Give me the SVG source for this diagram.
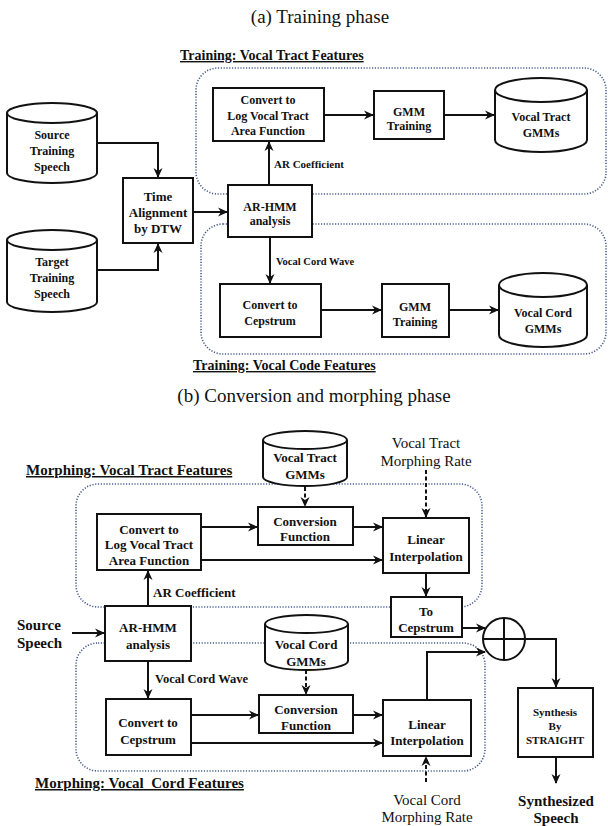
<svg xmlns="http://www.w3.org/2000/svg" width="608" height="826" viewBox="0 0 608 826">
<defs>
<marker id="ah" viewBox="0 0 10 10" refX="9" refY="5" markerWidth="10" markerHeight="10" markerUnits="userSpaceOnUse" orient="auto">
<path d="M0,0.5 L10,5 L0,9.5 L3,5 Z" fill="#111"/>
</marker>
<style>
.box{fill:#fff;stroke:#111;stroke-width:2}
.grp{fill:none;stroke:#4b5f8f;stroke-width:1.6;stroke-dasharray:1.2 1.6}
.ln{fill:none;stroke:#111;stroke-width:2}
.dash{stroke-dasharray:4 2.5}
.t{font-family:"Liberation Serif","Times New Roman",serif;font-weight:bold;text-anchor:middle;fill:#111}
.s12{font-size:12px}
.s13{font-size:13px}
.r{font-family:"Liberation Serif","Times New Roman",serif;font-weight:normal;text-anchor:middle;fill:#111}
.ul{text-decoration:underline;text-anchor:start}
</style>
</defs>
<rect width="608" height="826" fill="#fff"/>

<!-- titles -->
<text class="r" x="320" y="23" font-size="19">(a) Training phase</text>
<text class="r" x="314" y="402" font-size="19">(b) Conversion and morphing phase</text>

<!-- group frames -->
<g id="groups">
<rect class="grp" x="196" y="68" width="410" height="126" rx="22"/>
<rect class="grp" x="201" y="224" width="405" height="130" rx="22"/>
<rect class="grp" x="76" y="484" width="406" height="123" rx="22"/>
<rect class="grp" x="76" y="643" width="409" height="128" rx="22"/>
<text class="t ul" x="180" y="60" font-size="14">Training: Vocal Tract Features</text>
<text class="t ul" x="193" y="370" font-size="14">Training: Vocal Code Features</text>
<text class="t ul" x="26" y="475" font-size="15">Morphing: Vocal Tract Features</text>
<text class="t ul" x="35" y="788" font-size="15" xml:space="preserve">Morphing: Vocal  Cord Features</text>
</g>

<!-- connectors -->
<g id="connectors">
<path class="ln" d="M97,143 H158 V177" marker-end="url(#ah)"/>
<path class="ln" d="M97,270 H158 V244" marker-end="url(#ah)"/>
<path class="ln" d="M193,212 H227" marker-end="url(#ah)"/>
<path class="ln" d="M269,185 V142" marker-end="url(#ah)"/>
<path class="ln" d="M324,115 H373" marker-end="url(#ah)"/>
<path class="ln" d="M444,115 H494" marker-end="url(#ah)"/>
<path class="ln" d="M270,237 V283" marker-end="url(#ah)"/>
<path class="ln" d="M321,310 H381" marker-end="url(#ah)"/>
<path class="ln" d="M449,310 H498" marker-end="url(#ah)"/>
<text class="t" x="274" y="168" font-size="11" text-anchor="start" style="text-anchor:start">AR Coefficient</text>
<text class="t" x="276" y="265" font-size="10.5" style="text-anchor:start">Vocal Cord Wave</text>

<path class="ln dash" d="M305,487 V506" marker-end="url(#ah)"/>
<path class="ln" d="M201,527 H257" marker-end="url(#ah)"/>
<path class="ln" d="M201,560 H382" marker-end="url(#ah)"/>
<path class="ln" d="M353,527 H382" marker-end="url(#ah)"/>
<path class="ln dash" d="M426,470 V517" marker-end="url(#ah)"/>
<path class="ln" d="M426,573 V596" marker-end="url(#ah)"/>
<path class="ln" d="M148,606 V571" marker-end="url(#ah)"/>
<path class="ln" d="M72,633 H104" marker-end="url(#ah)"/>
<path class="ln" d="M148,661 V698" marker-end="url(#ah)"/>
<path class="ln dash" d="M306,670 V694" marker-end="url(#ah)"/>
<path class="ln" d="M191,715 H258" marker-end="url(#ah)"/>
<path class="ln" d="M191,743 H382" marker-end="url(#ah)"/>
<path class="ln" d="M353,715 H382" marker-end="url(#ah)"/>
<path class="ln" d="M427,700 V652 H485" marker-end="url(#ah)"/>
<path class="ln dash" d="M426,782 V757" marker-end="url(#ah)"/>
<path class="ln" d="M462,628 H485" marker-end="url(#ah)"/>
<path class="ln" d="M525,639 H556 V687" marker-end="url(#ah)"/>
<path class="ln" d="M556,757 V783" marker-end="url(#ah)"/>
<text class="t" x="153" y="597" font-size="13" style="text-anchor:start">AR Coefficient</text>
<text class="t" x="155" y="683" font-size="12.5" style="text-anchor:start">Vocal Cord Wave</text>
</g>

<!-- training nodes -->
<g id="src-train">
<path class="box" d="M7,113 A45,10 0 0 1 97,113 V173 A45,10 0 0 1 7,173 Z"/>
<path class="ln" d="M7,113 A45,10 0 0 0 97,113"/>
<text class="t s12" x="52" y="139">Source</text>
<text class="t s12" x="52" y="155">Training</text>
<text class="t s12" x="52" y="171">Speech</text>
</g>
<g id="tgt-train">
<path class="box" d="M7,240 A45,10 0 0 1 97,240 V302 A45,10 0 0 1 7,302 Z"/>
<path class="ln" d="M7,240 A45,10 0 0 0 97,240"/>
<text class="t s12" x="52" y="266">Target</text>
<text class="t s12" x="52" y="282">Training</text>
<text class="t s12" x="52" y="298">Speech</text>
</g>
<g id="dtw">
<rect class="box" x="123" y="178" width="70" height="65"/>
<text class="t s13" x="158" y="201">Time</text>
<text class="t s13" x="158" y="217">Alignment</text>
<text class="t s13" x="158" y="233">by DTW</text>
</g>
<g id="arhmm-train">
<rect class="box" x="228" y="185" width="84" height="52"/>
<text class="t s12" x="270" y="211">AR-HMM</text>
<text class="t s12" x="270" y="225">analysis</text>
</g>
<g id="logvt-train">
<rect class="box" x="213" y="88" width="111" height="53"/>
<text class="t s12" x="268" y="104">Convert to</text>
<text class="t s12" x="268" y="120">Log Vocal Tract</text>
<text class="t s12" x="268" y="135">Area Function</text>
</g>
<g id="gmm-vt-train">
<rect class="box" x="374" y="91" width="70" height="48"/>
<text class="t s12" x="409" y="116">GMM</text>
<text class="t s12" x="409" y="130">Training</text>
</g>
<g id="vt-gmms-train">
<path class="box" d="M495,90 A46,12 0 0 1 587,90 V140 A46,12 0 0 1 495,140 Z"/>
<path class="ln" d="M495,90 A46,12 0 0 0 587,90"/>
<text class="t s12" x="541" y="121">Vocal Tract</text>
<text class="t s12" x="541" y="137">GMMs</text>
</g>
<g id="cep-train">
<rect class="box" x="220" y="284" width="101" height="53"/>
<text class="t s12" x="270" y="309">Convert to</text>
<text class="t s12" x="270" y="325">Cepstrum</text>
</g>
<g id="gmm-vc-train">
<rect class="box" x="382" y="284" width="67" height="53"/>
<text class="t s12" x="415" y="311">GMM</text>
<text class="t s12" x="415" y="326">Training</text>
</g>
<g id="vc-gmms-train">
<path class="box" d="M499,285 A44,12 0 0 1 587,285 V335 A44,12 0 0 1 499,335 Z"/>
<path class="ln" d="M499,285 A44,12 0 0 0 587,285"/>
<text class="t s12" x="543" y="317">Vocal Cord</text>
<text class="t s12" x="543" y="333">GMMs</text>
</g>

<!-- morphing nodes -->
<g id="vt-rate">
<text class="r" x="426" y="448" font-size="15">Vocal Tract</text>
<text class="r" x="426" y="466" font-size="15">Morphing  Rate</text>
</g>
<g id="vt-gmms">
<path class="box" d="M263,440 A42,9 0 0 1 347,440 V477 A42,9 0 0 1 263,477 Z"/>
<path class="ln" d="M263,440 A42,9 0 0 0 347,440"/>
<text class="t s13" x="305" y="462">Vocal Tract</text>
<text class="t s13" x="305" y="479">GMMs</text>
</g>
<g id="conv-vt">
<rect class="box" x="258" y="507" width="95" height="38"/>
<text class="t s13" x="305" y="526">Conversion</text>
<text class="t s13" x="305" y="541">Function</text>
</g>
<g id="logvt">
<rect class="box" x="97" y="514" width="104" height="56"/>
<text class="t s13" x="149" y="534">Convert to</text>
<text class="t s13" x="149" y="549">Log Vocal Tract</text>
<text class="t s13" x="149" y="565">Area Function</text>
</g>
<g id="lin-vt">
<rect class="box" x="383" y="518" width="86" height="55"/>
<text class="t s13" x="426" y="544">Linear</text>
<text class="t s13" x="426" y="561">Interpolation</text>
</g>
<g id="to-cep">
<rect class="box" x="391" y="597" width="71" height="40"/>
<text class="t s13" x="426" y="616">To</text>
<text class="t s13" x="426" y="632">Cepstrum</text>
</g>
<g id="src-speech">
<text class="t" x="17" y="630" font-size="15" style="text-anchor:start">Source</text>
<text class="t" x="17" y="648" font-size="15" style="text-anchor:start">Speech</text>
</g>
<g id="arhmm">
<rect class="box" x="105" y="606" width="86" height="55"/>
<text class="t s13" x="148" y="632">AR-HMM</text>
<text class="t s13" x="148" y="649">analysis</text>
</g>
<g id="vc-gmms">
<path class="box" d="M265,624 A41.5,9 0 0 1 348,624 V661 A41.5,9 0 0 1 265,661 Z"/>
<path class="ln" d="M265,624 A41.5,9 0 0 0 348,624"/>
<text class="t s13" x="306" y="649">Vocal Cord</text>
<text class="t s13" x="306" y="666">GMMs</text>
</g>
<g id="conv-vc">
<rect class="box" x="259" y="695" width="94" height="38"/>
<text class="t s13" x="306" y="714">Conversion</text>
<text class="t s13" x="306" y="730">Function</text>
</g>
<g id="cep">
<rect class="box" x="106" y="699" width="85" height="56"/>
<text class="t s13" x="148" y="727">Convert to</text>
<text class="t s13" x="148" y="744">Cepstrum</text>
</g>
<g id="lin-vc">
<rect class="box" x="383" y="700" width="88" height="56"/>
<text class="t s13" x="427" y="729">Linear</text>
<text class="t s13" x="427" y="745">Interpolation</text>
</g>
<g id="vc-rate">
<text class="r" x="427" y="805" font-size="15">Vocal Cord</text>
<text class="r" x="427" y="822" font-size="15">Morphing  Rate</text>
</g>
<g id="sum">
<circle class="box" cx="504" cy="639" r="21"/>
<path class="ln" d="M483,639 H525 M504,618 V660"/>
</g>
<g id="straight">
<rect class="box" x="518" y="688" width="75" height="69"/>
<text class="t" x="555" y="716" font-size="11">Synthesis</text>
<text class="t" x="555" y="730" font-size="11">By</text>
<text class="t" x="555" y="744" font-size="11">STRAIGHT</text>
</g>
<g id="synth-speech">
<text class="t" x="556" y="806" font-size="15">Synthesized</text>
<text class="t" x="556" y="823" font-size="15">Speech</text>
</g>
</svg>
